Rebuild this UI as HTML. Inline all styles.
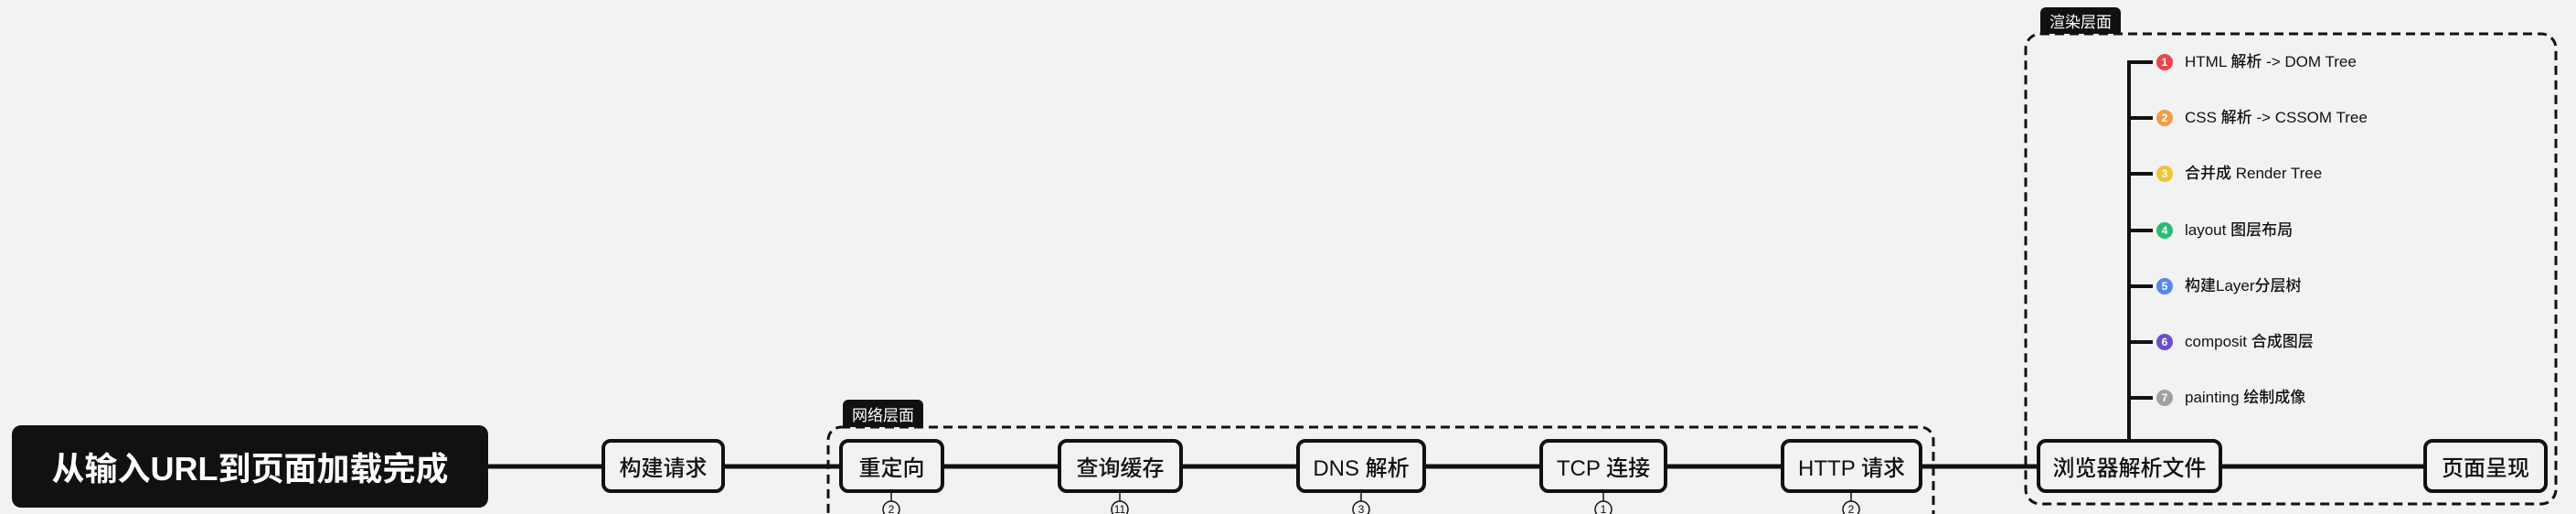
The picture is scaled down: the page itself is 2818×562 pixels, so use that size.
<!DOCTYPE html>
<html><head><meta charset="utf-8"><style>
body{margin:0;width:2818px;height:562px;background:#f2f2f2;overflow:hidden;position:relative;font-family:"Liberation Sans","Noto Sans CJK SC",sans-serif}
.n{position:absolute;box-sizing:border-box;border:4px solid #111;border-radius:10px;background:#f2f2f2;display:flex;align-items:center;justify-content:center;font-size:24px;font-weight:500;color:#111;top:480px;height:59px}
.tab{position:absolute;background:#111;color:#fff;font-size:17px;display:flex;align-items:center;justify-content:center;border-radius:6px 6px 0 0}
.it{position:absolute;left:2390px;font-size:17px;font-weight:500;color:#111;line-height:20px}
.d{position:absolute;left:2359px;width:18px;height:18px;border-radius:50%;color:#fff;font-size:12px;font-weight:bold;display:flex;align-items:center;justify-content:center}
</style></head><body>
<svg width="2818" height="562" style="position:absolute;left:0;top:0">
<line x1="534" y1="510" x2="2651" y2="510" stroke="#111" stroke-width="5"/>
<rect x="906" y="467" width="1209" height="110" rx="14" fill="none" stroke="#111" stroke-width="3" stroke-dasharray="10 6"/>
<rect x="2216" y="37" width="580" height="514" rx="16" fill="none" stroke="#111" stroke-width="3" stroke-dasharray="10 6"/>
<line x1="2329" y1="66" x2="2329" y2="480" stroke="#111" stroke-width="4"/>
<g stroke="#111" stroke-width="4">
<line x1="2329" y1="68" x2="2355" y2="68"/><line x1="2329" y1="129" x2="2355" y2="129"/><line x1="2329" y1="190" x2="2355" y2="190"/><line x1="2329" y1="252" x2="2355" y2="252"/><line x1="2329" y1="313" x2="2355" y2="313"/><line x1="2329" y1="374" x2="2355" y2="374"/><line x1="2329" y1="435" x2="2355" y2="435"/>
</g>
<g stroke="#111" stroke-width="1.5" fill="#f2f2f2">
<line x1="975" y1="539" x2="975" y2="548"/><circle cx="975" cy="557" r="9"/>
<line x1="1225" y1="539" x2="1225" y2="548"/><circle cx="1225" cy="557" r="9"/>
<line x1="1489" y1="539" x2="1489" y2="548"/><circle cx="1489" cy="557" r="9"/>
<line x1="1754" y1="539" x2="1754" y2="548"/><circle cx="1754" cy="557" r="9"/>
<line x1="2025" y1="539" x2="2025" y2="548"/><circle cx="2025" cy="557" r="9"/>
</g>
<g font-size="12" font-family="Liberation Sans" fill="#111" text-anchor="middle">
<text x="975" y="561">2</text><text x="1225" y="561">11</text><text x="1489" y="561">3</text><text x="1754" y="561">1</text><text x="2025" y="561">2</text>
</g>
</svg>
<div style="position:absolute;left:13px;top:465px;width:521px;height:90px;background:#111;border-radius:10px;color:#fff;font-size:36px;font-weight:bold;display:flex;align-items:center;justify-content:center">从输入URL到页面加载完成</div>
<div class="n" style="left:658px;width:135px">构建请求</div>
<div class="tab" style="left:922px;top:437px;width:88px;height:30px">网络层面</div>
<div class="n" style="left:918px;width:115px">重定向</div>
<div class="n" style="left:1157px;width:137px">查询缓存</div>
<div class="n" style="left:1418px;width:142px">DNS 解析</div>
<div class="n" style="left:1684px;width:140px">TCP 连接</div>
<div class="n" style="left:1948px;width:155px">HTTP 请求</div>
<div class="n" style="left:2228px;width:203px">浏览器解析文件</div>
<div class="n" style="left:2651px;width:136px">页面呈现</div>
<div class="tab" style="left:2232px;top:8px;width:88px;height:29px">渲染层面</div>
<div class="d" style="top:59px;background:#e8474c">1</div><div class="it" style="top:58px">HTML 解析 -&gt; DOM Tree</div>
<div class="d" style="top:120px;background:#f29b48">2</div><div class="it" style="top:119px">CSS 解析 -&gt; CSSOM Tree</div>
<div class="d" style="top:181px;background:#eec434">3</div><div class="it" style="top:180px">合并成 Render Tree</div>
<div class="d" style="top:243px;background:#2dbb74">4</div><div class="it" style="top:242px">layout 图层布局</div>
<div class="d" style="top:304px;background:#5a85ee">5</div><div class="it" style="top:303px">构建Layer分层树</div>
<div class="d" style="top:365px;background:#6a4fc8">6</div><div class="it" style="top:364px">composit 合成图层</div>
<div class="d" style="top:426px;background:#a0a0a0">7</div><div class="it" style="top:425px">painting 绘制成像</div>
</body></html>
